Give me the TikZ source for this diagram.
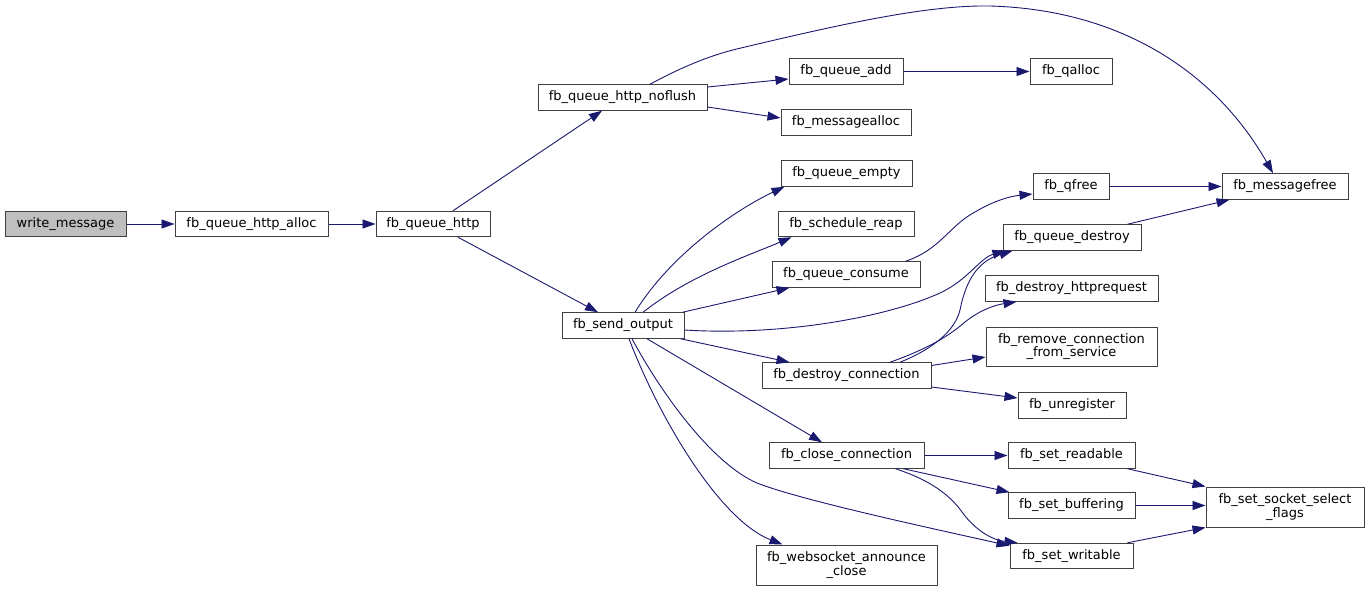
\documentclass[tikz,border=0pt]{standalone}
\usepackage{fontspec}
\setmainfont{DejaVu Sans}
\usetikzlibrary{arrows.meta,calc}
\definecolor{edgec}{HTML}{191970}
\definecolor{boxc}{HTML}{404040}
\definecolor{hl}{HTML}{BFBFBF}
\begin{document}
\begin{tikzpicture}[x=1pt,y=-1pt,
  fn/.style={draw=boxc, line width=1pt, fill=white, inner sep=0pt, minimum height=25.5pt,
    font=\fontsize{13}{13.5}\selectfont, align=center},
  e/.style={draw=edgec, line width=0.9pt, -{Triangle[length=13pt,width=9pt]}}]
\useasboundingbox (0,0) rectangle (1369,591);
% nodes
\node[fn, fill=hl, minimum width=121pt] (wm) at (65.5,224) {write\_message};
\node[fn, minimum width=153pt] (qha) at (251.5,224) {fb\_queue\_http\_alloc};
\node[fn, minimum width=114pt] (qh) at (433,224) {fb\_queue\_http};
\node[fn, minimum width=169pt] (nf) at (622.5,97.5) {fb\_queue\_http\_noflush};
\node[fn, minimum width=122pt] (so) at (623,325.5) {fb\_send\_output};
\node[fn, minimum width=114pt] (qadd) at (846,71.5) {fb\_queue\_add};
\node[fn, minimum width=130pt] (malloc) at (846,122.5) {fb\_messagealloc};
\node[fn, minimum width=131pt] (qempty) at (846.5,173.5) {fb\_queue\_empty};
\node[fn, minimum width=136pt] (reap) at (846,224) {fb\_schedule\_reap};
\node[fn, minimum width=148pt] (consume) at (846,274.5) {fb\_queue\_consume};
\node[fn, minimum width=169pt] (dc) at (846.5,375.5) {fb\_destroy\_connection};
\node[fn, minimum width=155pt] (cc) at (846.5,455.5) {fb\_close\_connection};
\node[fn, minimum width=181pt, minimum height=40pt] (ws) at (846.5,565) {fb\_websocket\_announce\\\_close};
\node[fn, minimum width=82pt] (qalloc) at (1071,71.5) {fb\_qalloc};
\node[fn, minimum width=76pt] (qfree) at (1071,186.5) {fb\_qfree};
\node[fn, minimum width=138pt] (qdestroy) at (1072,237.5) {fb\_queue\_destroy};
\node[fn, minimum width=173pt] (httpreq) at (1071.5,288.5) {fb\_destroy\_httprequest};
\node[fn, minimum width=171pt, minimum height=39pt] (remove) at (1071.5,346.5) {fb\_remove\_connection\\\_from\_service};
\node[fn, minimum width=108pt] (unreg) at (1072,405.5) {fb\_unregister};
\node[fn, minimum width=127pt] (readable) at (1071.5,455.5) {fb\_set\_readable};
\node[fn, minimum width=127pt] (buffering) at (1071.5,505.5) {fb\_set\_buffering};
\node[fn, minimum width=123pt] (writable) at (1071.5,556) {fb\_set\_writable};
\node[fn, minimum width=126pt] (mfree) at (1285,186.5) {fb\_messagefree};
\node[fn, minimum width=158pt, minimum height=40pt] (ssf) at (1285,507) {fb\_set\_socket\_select\\\_flags};
% edges
\draw[e] (wm.east) -- (qha.west);
\draw[e] (qha.east) -- (qh.west);
\draw[e] ($(qh.north)+(20,0)$) -- ($(nf.south)+(-20.5,0)$);
\draw[e] ($(qh.south)+(25,0)$) -- ($(so.north)+(-25,0)$);
\draw[e] ($(nf.east)+(0,-10.5)$) -- ($(qadd.west)+(0,7.5)$);
\draw[e] ($(nf.east)+(0,9.5)$) -- ($(malloc.west)+(0,-4.5)$);
\draw[e] ($(nf.north)+(27.5,0)$) .. controls (680,68) and (710,55) .. (741,48)
  .. controls (850,22) and (930,5) .. (990,6)
  .. controls (1130,10) and (1220,80) .. ($(mfree.north)+(-12,0)$);
\draw[e] (qadd.east) -- (qalloc.west);
\draw[e] ($(so.north)+(12,0)$) .. controls (670,255) and (735,210) .. ($(qempty.south west)+(4,0)$);
\draw[e] ($(so.north)+(20,0)$) .. controls (690,275) and (750,255) .. ($(reap.south west)+(14,0)$);
\draw[e] ($(so.north east)+(-2,0)$) -- ($(consume.south west)+(18,0)$);
\draw[e] ($(so.east)+(0,4.5)$) .. controls (780,336) and (885,318) .. (940,293)
  .. controls (968,280) and (980,258) .. ($(qdestroy.south west)+(3,0)$);
\draw[e] ($(consume.north east)+(-15,0)$) .. controls (940,250) and (950,225) .. (975,212)
  .. controls (995,200) and (1012,196) .. ($(qfree.west)+(0,7.5)$);
\draw[e] (qfree.east) -- (mfree.west);
\draw[e] ($(qdestroy.north east)+(-14,0)$) -- ($(mfree.south west)+(8,0)$);
\draw[e] ($(dc.north)+(53.5,0)$) .. controls (935,348) and (955,330) .. (960,310)
  .. controls (965,285) and (975,262) .. ($(qdestroy.south west)+(10,0)$);
\draw[e] ($(dc.north)+(43.5,0)$) .. controls (930,348) and (950,335) .. (965,322)
  .. controls (980,310) and (995,305) .. ($(httpreq.south west)+(32,0)$);
\draw[e] ($(dc.east)+(0,-10)$) -- ($(remove.west)+(0,10.5)$);
\draw[e] ($(dc.east)+(0,11.5)$) -- ($(unreg.west)+(0,-7.5)$);
\draw[e] ($(so.south east)+(-4,0)$) -- ($(dc.north west)+(28,0)$);
\draw[e] ($(so.south)+(24,0)$) -- ($(cc.north)+(-24.5,0)$);
\draw[e] ($(so.south)+(9,0)$) .. controls (665,400) and (715,465) .. (757,483)
  .. controls (800,500) and (930,528) .. ($(writable.north west)+(0,3)$);
\draw[e] ($(so.south)+(6,0)$) .. controls (660,420) and (720,520) .. ($(ws.north west)+(27,0)$);
\draw[e] (cc.east) -- (readable.west);
\draw[e] ($(cc.south east)+(-21,0)$) -- ($(buffering.north west)+(2,0)$);
\draw[e] ($(cc.south east)+(-29,0)$) .. controls (930,480) and (950,495) .. (962,512)
  .. controls (975,530) and (992,540) .. ($(writable.north west)+(8,0)$);
\draw[e] ($(readable.south east)+(-8,0)$) -- (ssf.north west);
\draw[e] (buffering.east) -- (buffering.east -| ssf.west);
\draw[e] ($(writable.north east)+(-6,0)$) -- (ssf.south west);
\end{tikzpicture}
\end{document}
